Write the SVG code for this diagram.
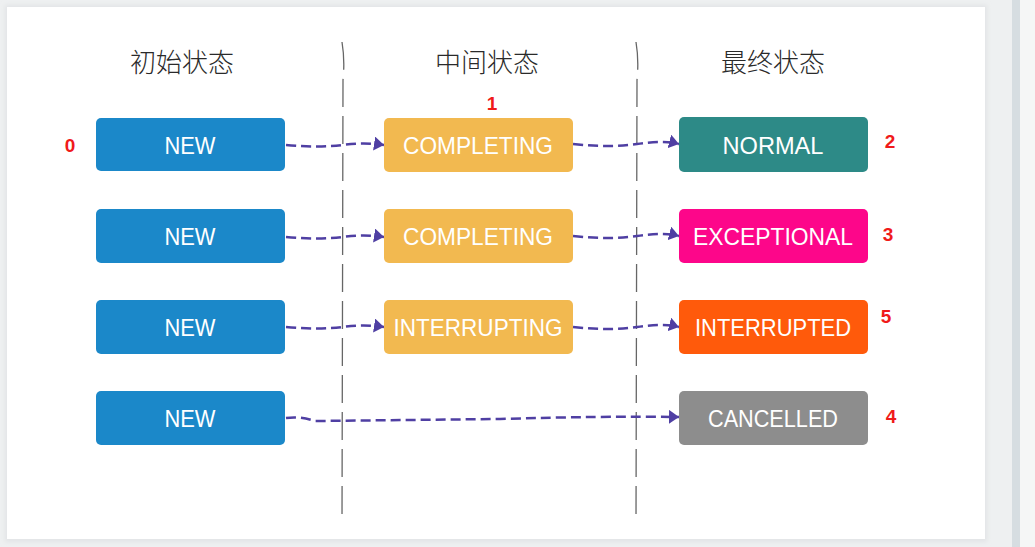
<svg xmlns="http://www.w3.org/2000/svg" width="1035" height="547" viewBox="0 0 1035 547">
<defs>
<style>
.hdr{font-family:"Noto Sans CJK SC","Noto Sans",sans-serif;font-size:26px;font-weight:300;fill:#2a2a2a;text-anchor:middle}
.lbl{font-family:"Liberation Sans","DejaVu Sans",sans-serif;font-size:24px;fill:#fff;text-anchor:middle}
.num{font-family:"Liberation Sans",Arial,sans-serif;font-size:19px;font-weight:bold;fill:#f01a1a;text-anchor:middle}
.sep{fill:none;stroke:#666;stroke-width:1.3;stroke-dasharray:28 9}
.arr{fill:none;stroke:#4f3fa3;stroke-width:2.5;stroke-dasharray:10 5;marker-end:url(#ah)}
</style>
<marker id="ah" viewBox="0 0 10 14" refX="10" refY="7" markerWidth="10" markerHeight="14" markerUnits="userSpaceOnUse" orient="auto">
<path d="M0,0 L10,7 L0,14 Z" fill="#4f3fa3"/>
</marker>
<filter id="sh" x="-5%" y="-5%" width="110%" height="110%">
<feGaussianBlur stdDeviation="2"/>
</filter>
</defs>
<rect x="0" y="0" width="1035" height="547" fill="#eef0f1"/>
<rect x="1012" y="0" width="8" height="547" fill="#d6dde1"/>
<rect x="1020" y="0" width="15" height="547" fill="#f5f6f6"/>
<rect x="5" y="5" width="982" height="537" fill="#e2e4e6" filter="url(#sh)"/>
<rect x="7" y="7" width="978" height="532" fill="#ffffff"/>

<g id="headers">
<text class="hdr" x="182" y="72">初始状态</text>
<text class="hdr" x="487" y="72">中间状态</text>
<text class="hdr" x="773" y="72">最终状态</text>
</g>

<g id="separators">
<path class="sep" d="M342,42 Q345,60 343,80 L342,522"/>
<path class="sep" d="M636,42 Q639,60 637,80 L636,522"/>
</g>

<g id="connectors">
<path class="arr" d="M286,145 Q320,148 342,145 T384,145"/>
<path class="arr" d="M573,144 Q610,148 637,144 T679,144"/>
<path class="arr" d="M286,237 Q320,240 342,237 T384,237"/>
<path class="arr" d="M573,236 Q610,240 637,236 T679,236"/>
<path class="arr" d="M286,327 Q320,330 342,327 T384,327"/>
<path class="arr" d="M573,327 Q610,331 637,327 T679,327"/>
<path class="arr" d="M286,418 Q300,416 315,421 L500,419 Q600,416 679,417"/>
</g>

<g id="n-new1"><rect x="96" y="118" width="189" height="53" rx="5" fill="#1b88c9"/><text class="lbl" x="190" y="154" textLength="51" lengthAdjust="spacingAndGlyphs">NEW</text></g>
<g id="n-new2"><rect x="96" y="209" width="189" height="54" rx="5" fill="#1b88c9"/><text class="lbl" x="190" y="245" textLength="51" lengthAdjust="spacingAndGlyphs">NEW</text></g>
<g id="n-new3"><rect x="96" y="300" width="189" height="54" rx="5" fill="#1b88c9"/><text class="lbl" x="190" y="336" textLength="51" lengthAdjust="spacingAndGlyphs">NEW</text></g>
<g id="n-new4"><rect x="96" y="391" width="189" height="54" rx="5" fill="#1b88c9"/><text class="lbl" x="190" y="427" textLength="51" lengthAdjust="spacingAndGlyphs">NEW</text></g>

<g id="n-completing1"><rect x="384" y="118" width="189" height="54" rx="5" fill="#f2b950"/><text class="lbl" x="478" y="154" textLength="150" lengthAdjust="spacingAndGlyphs">COMPLETING</text></g>
<g id="n-completing2"><rect x="384" y="209" width="189" height="54" rx="5" fill="#f2b950"/><text class="lbl" x="478" y="245" textLength="150" lengthAdjust="spacingAndGlyphs">COMPLETING</text></g>
<g id="n-interrupting"><rect x="384" y="300" width="189" height="54" rx="5" fill="#f2b950"/><text class="lbl" x="478" y="336" textLength="169" lengthAdjust="spacingAndGlyphs">INTERRUPTING</text></g>

<g id="n-normal"><rect x="679" y="117" width="189" height="55" rx="5" fill="#2d8a87"/><text class="lbl" x="773" y="154" textLength="101" lengthAdjust="spacingAndGlyphs">NORMAL</text></g>
<g id="n-exceptional"><rect x="679" y="209" width="189" height="54" rx="5" fill="#fd068a"/><text class="lbl" x="773" y="245" textLength="160" lengthAdjust="spacingAndGlyphs">EXCEPTIONAL</text></g>
<g id="n-interrupted"><rect x="679" y="300" width="189" height="54" rx="5" fill="#ff5a0b"/><text class="lbl" x="773" y="336" textLength="156" lengthAdjust="spacingAndGlyphs">INTERRUPTED</text></g>
<g id="n-cancelled"><rect x="679" y="391" width="189" height="54" rx="5" fill="#8d8d8d"/><text class="lbl" x="773" y="427" textLength="130" lengthAdjust="spacingAndGlyphs">CANCELLED</text></g>

<g id="numbers">
<text class="num" x="70" y="152">0</text>
<text class="num" x="492" y="110">1</text>
<text class="num" x="890" y="148">2</text>
<text class="num" x="888" y="241">3</text>
<text class="num" x="886" y="323">5</text>
<text class="num" x="891" y="423">4</text>
</g>
</svg>
